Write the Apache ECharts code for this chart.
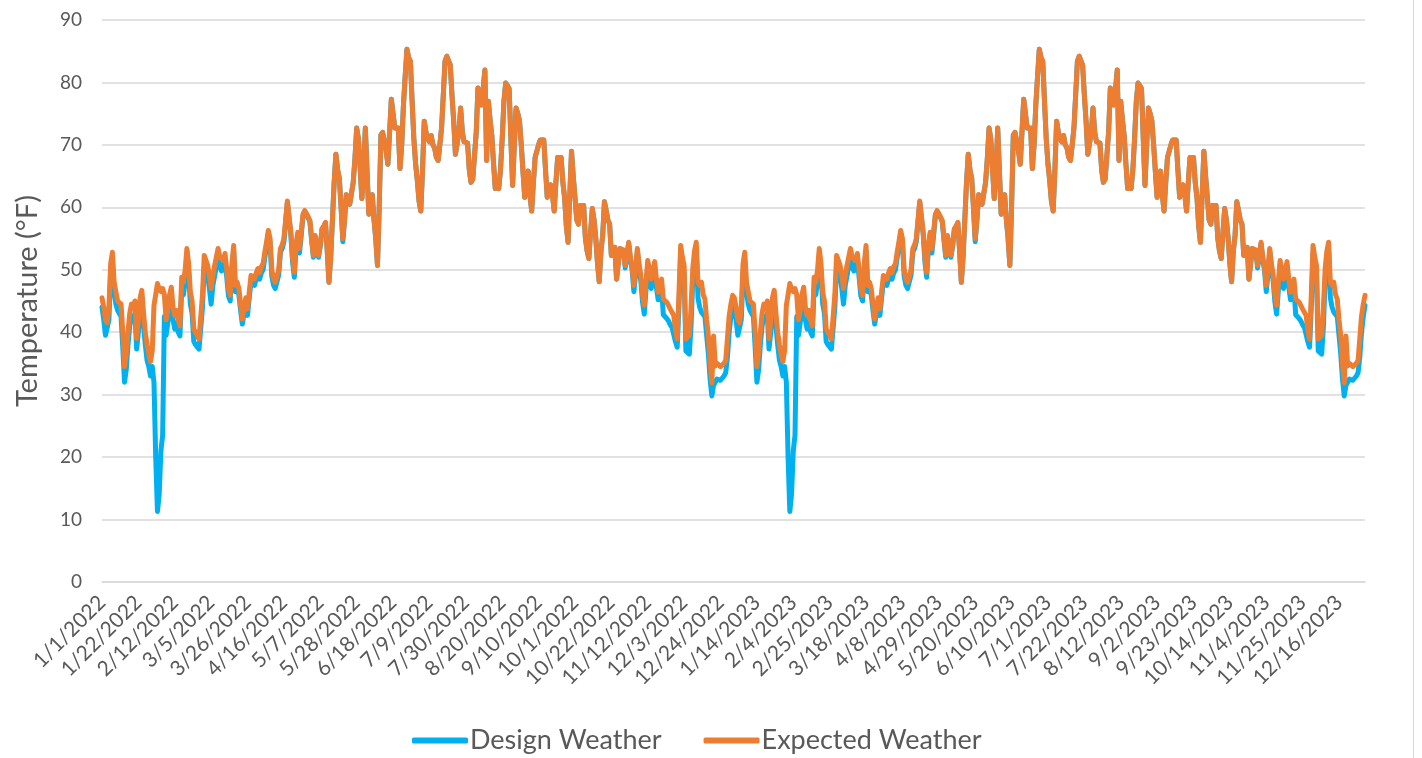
<!DOCTYPE html>
<html>
<head>
<meta charset="utf-8">
<title>Design vs Expected Weather</title>
<script src="https://cdn.jsdelivr.net/npm/echarts@6/dist/echarts.min.js"></script>
<style>
  html, body { margin: 0; padding: 0; background: #ffffff; }
  #chart { width: 1422px; height: 758px; }
</style>
</head>
<body>
<div id="chart"></div>
<script>
// Daily mean temperature (°F) for a typical year, Jan 1 .. Dec 31.
// The same weather year is used for 2022 and 2023.
const expectedYear = [
  45.5, 44, 42, 41.5, 44, 51, 52.8, 48, 46.5, 45,
  44.8, 44.5, 40, 34.5, 36.5, 40, 43, 44.5, 44, 45,
  39, 42, 45.5, 46.7, 43, 40, 38, 36.5, 35.3, 37,
  44.3, 46, 47.8, 47, 46.5, 47, 46, 42, 43.5, 46,
  47.2, 44, 42.7, 43.5, 42, 41, 48.8, 48, 50, 53.4,
  51, 46.4, 45, 40.5, 40, 40, 38.9, 39, 46, 52.3,
  51.5, 50.7, 49, 47, 49, 50.7, 52, 53.4, 52, 52,
  51.5, 52.6, 50, 47, 45.9, 51, 53.9, 47.5, 48, 47,
  44.5, 42.1, 44, 45.5, 43.7, 46.5, 49.1, 48.8, 48.5, 49.5,
  50.2, 49.5, 50.5, 51, 52.9, 54.5, 56.3, 55, 50, 48.5,
  48, 48.2, 50, 53.4, 54, 55, 58, 61, 58.5, 56,
  52, 49.6, 54, 56, 53.4, 56, 58.9, 59.5, 59, 58.5,
  57.9, 55, 52.3, 55.5, 54, 52.3, 54, 56.6, 57, 57.6,
  53, 48, 52, 58, 64, 68.5, 66, 64.6, 60, 55,
  58, 62, 61, 60.5, 60.4, 64, 67.8, 72.7, 71, 71,
  61.4, 66, 72.7, 65.7, 58.9, 60, 62, 58, 55, 50.7,
  60, 71.6, 72, 71.8, 69, 66.9, 72, 77.3, 75, 72.7,
  72.5, 72.7, 66.2, 70, 76.4, 81, 85.3, 84, 83.4, 77,
  71, 67, 64.3, 61, 59.4, 66, 73.8, 72, 71, 70.5,
  71.5, 70, 69.5, 68, 67.5, 70, 72.7, 78, 83.4, 84.2,
  83.5, 82.8, 78, 73.8, 68.5, 68.5, 72, 75.9, 72, 70.5,
  70.5, 70.3, 66, 64, 64.5, 64.3, 72, 79.1, 77, 76.4,
  79, 82, 67.5, 77, 74, 71.5, 67, 63, 63.5, 63,
  66, 71, 77, 79.9, 79.5, 79, 71, 63.5, 70, 75.9,
  75, 73.8, 70, 65.7, 61.6, 64, 65.8, 62, 59.4, 64,
  68, 69, 70, 70.8, 70.5, 70.8, 66, 61.6, 62.5, 63.6,
  62, 59.4, 64, 68, 68, 68, 64, 61.6, 57, 54.4,
  62, 69, 65, 61.6, 58, 57.3, 60.3, 60, 60.3, 55.1,
  53, 51.8, 56, 59.8, 58, 55.1, 51, 48.1, 53, 55.5,
  60.9, 59.5, 58, 57.3, 52.3, 52, 53.6, 48.5, 51, 53.4,
  53.5, 53.2, 50.7, 52.5, 54.4, 52, 50.5, 47.5, 50, 53.4,
  51, 49.1, 46, 44.3, 48, 51.5, 50, 48.5, 50, 51.3,
  48.5, 46.4, 47.5, 48.5, 45.3, 45, 44.8, 44.5, 43.7, 43.2,
  42.7, 40.5, 38.9, 46, 53.9, 52, 50.7, 38.9, 39.2, 39.5,
  44, 50.2, 53, 54.4, 48, 47.5, 48, 46, 45.3, 42,
  39.4, 35, 31.9, 39.4, 34.6, 35, 35, 34.5, 34.3, 35,
  35.5, 39, 42.6, 44.5, 45.9
];

const designYear = [
  44, 42, 39.5, 39.3, 42, 49.5, 51.5, 46.5, 44.5, 43.5,
  43, 42.5, 37.5, 32, 34, 38, 41, 42.5, 42, 43,
  37.3, 40, 43.5, 45, 41, 38, 35.5, 34.5, 33, 34.5,
  32, 20, 11.3, 14, 21, 23.5, 42.5, 39.5, 41.5, 44,
  45.5, 42, 40.5, 41.5, 40, 39.4, 47, 46, 48, 52,
  49.5, 44.5, 43, 38.5, 38, 38, 37.3, 37.5, 44, 50.5,
  50, 49, 47, 44.5, 47.5, 49, 50.5, 52, 50.5, 49.8,
  50, 51.5, 48.8, 45.8, 45, 50, 53, 46.5, 47, 46,
  43.5, 41.3, 43, 44.5, 42.7, 45.5, 48, 47.8, 47.5, 48.5,
  49.2, 48.5, 49.5, 50, 52, 53.8, 55.8, 54.3, 49, 47.5,
  47, 47.3, 49.2, 52.8, 53.4, 54.5, 57.6, 60.8, 58.2, 55.6,
  51.2, 48.8, 53.5, 55.6, 52.7, 55.5, 58.6, 59.3, 58.8, 58.3,
  57.7, 54.7, 52, 55.3, 53.8, 52, 53.8, 56.5, 56.9, 57.5,
  53, 48, 52, 58, 64, 68.5, 66, 64.6, 60, 54.5,
  58, 62, 61, 60.5, 60.4, 64, 67.8, 72.7, 71, 71,
  61.4, 66, 72.7, 65.7, 58.9, 60, 62, 58, 55, 50.7,
  60, 71.6, 72, 71.8, 69, 66.9, 72, 77.3, 75, 72.7,
  72.5, 72.7, 66.2, 70, 76.4, 81, 85.3, 84, 83.4, 77,
  71, 67, 64.3, 61, 59.4, 66, 73.8, 72, 71, 70.5,
  71.5, 70, 69.5, 68, 67.5, 70, 72.7, 78, 83.4, 84.2,
  83.5, 82.8, 78, 73.8, 68.5, 68.5, 72, 75.9, 72, 70.5,
  70.5, 70.3, 66, 64, 64.5, 64.3, 72, 79.1, 77, 76.4,
  79, 82, 67.5, 77, 74, 71.5, 67, 63, 63.5, 63,
  66, 71, 77, 79.9, 79.5, 79, 71, 63.5, 70, 75.9,
  75, 73.8, 70, 65.7, 61.6, 64, 65.8, 62, 59.4, 64,
  68, 69, 70, 70.8, 70.5, 70.8, 66, 61.6, 62.5, 63.6,
  62, 59.4, 64, 68, 68, 68, 64, 61.6, 57, 54.4,
  62, 69, 65, 61.6, 58, 57.3, 60.3, 60, 60.3, 55.1,
  53, 51.8, 56, 59.8, 58, 55.1, 51, 48.1, 53, 55.5,
  60.9, 59.5, 58, 57.3, 52.3, 52, 53.6, 48.5, 51, 53.4,
  53.3, 53, 50.3, 52.2, 54.2, 51.6, 49.9, 46.5, 49.3, 53,
  50.2, 48.2, 44.8, 42.9, 46.8, 50.8, 48.8, 47, 49, 50.5,
  47.2, 45.2, 46.2, 47, 42.8, 42.5, 42.2, 41.8, 41.2, 40.8,
  40.5, 38.5, 37.6, 44, 52.5, 50.8, 49.3, 37, 36.8, 36.5,
  41, 48.5, 51.7, 53.3, 45.5, 44, 43.2, 43.5, 42.5, 39.5,
  36.5, 32.5, 29.8, 31.5, 31.5, 32.5, 32.5, 32.3, 32.5, 33,
  33.5, 36, 40, 42.5, 44.3
];

const years = [2022, 2023];
const yTicks = { min: 0, max: 90, step: 10 };

// Category labels in m/d/yyyy form, one per day.
const dates = [];
years.forEach(function (y) {
  const d = new Date(Date.UTC(y, 0, 1));
  while (d.getUTCFullYear() === y) {
    dates.push((d.getUTCMonth() + 1) + '/' + d.getUTCDate() + '/' + y);
    d.setUTCDate(d.getUTCDate() + 1);
  }
});

const designWeather = [].concat(designYear, designYear);
const expectedWeather = [].concat(expectedYear, expectedYear);

const FONT = 'Lato, "Open Sans", sans-serif';
const TEXT = '#595959';

const chart = echarts.init(document.getElementById('chart'), null, { renderer: 'canvas' });
chart.setOption({
  animation: false,
  backgroundColor: '#ffffff',
  grid: { left: 102, right: 57, top: 20, bottom: 176, containLabel: false },
  legend: {
    top: 727,
    left: 412,
    padding: 0,
    icon: 'roundRect',
    itemWidth: 56,
    itemHeight: 6,
    itemGap: 42,
    textStyle: { fontFamily: FONT, fontSize: 27, color: TEXT, padding: [0, 0, 0, -3] },
    data: ['Design Weather', 'Expected Weather']
  },
  xAxis: {
    type: 'category',
    data: dates,
    boundaryGap: false,
    axisLine: { show: true, lineStyle: { color: '#D9D9D9', width: 1.5 } },
    axisTick: { show: false },
    axisLabel: {
      interval: 20,
      rotate: 45,
      margin: 17,
      fontFamily: FONT,
      fontSize: 21,
      color: TEXT
    },
    splitLine: { show: false }
  },
  yAxis: {
    type: 'value',
    min: yTicks.min,
    max: yTicks.max,
    interval: yTicks.step,
    name: 'Temperature (°F)',
    nameLocation: 'middle',
    nameRotate: 90,
    nameGap: 60,
    nameTextStyle: { fontFamily: FONT, fontSize: 29, color: TEXT },
    axisLine: { show: false },
    axisTick: { show: false },
    axisLabel: { fontFamily: FONT, fontSize: 19, color: TEXT, margin: 20 },
    splitLine: { lineStyle: { color: '#D9D9D9', width: 1.5 } }
  },
  series: [
    {
      name: 'Design Weather',
      type: 'line',
      data: designWeather,
      showSymbol: false,
      symbol: 'none',
      lineStyle: { color: '#00B0F0', width: 5, join: 'round', cap: 'round' },
      itemStyle: { color: '#00B0F0' },
      z: 2
    },
    {
      name: 'Expected Weather',
      type: 'line',
      data: expectedWeather,
      showSymbol: false,
      symbol: 'none',
      lineStyle: { color: '#ED7D31', width: 5, join: 'round', cap: 'round' },
      itemStyle: { color: '#ED7D31' },
      z: 3
    }
  ],
  graphic: [
    {
      type: 'line',
      shape: { x1: 1413.5, y1: 0, x2: 1413.5, y2: 758 },
      style: { stroke: '#D9D9D9', lineWidth: 1 },
      silent: true
    }
  ]
});
</script>
</body>
</html>
